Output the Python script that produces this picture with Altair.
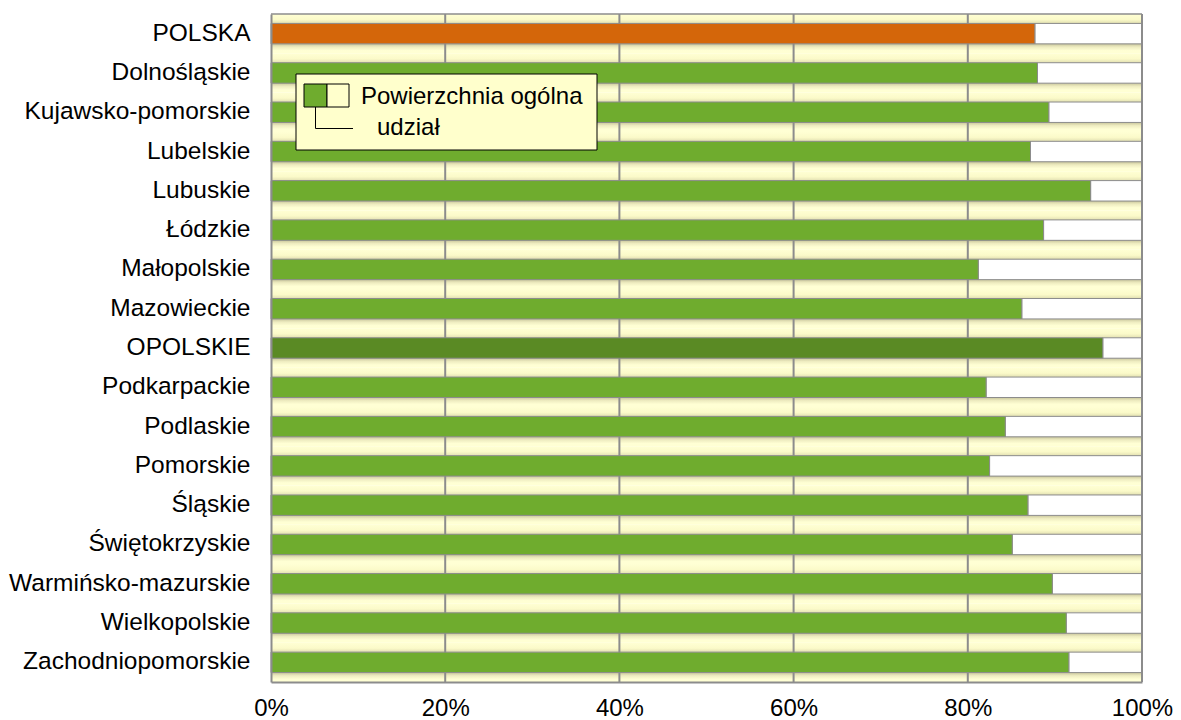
import altair as alt
import pandas as pd

regions = ["POLSKA", "Dolnośląskie", "Kujawsko-pomorskie", "Lubelskie", "Lubuskie",
           "Łódzkie", "Małopolskie", "Mazowieckie", "OPOLSKIE", "Podkarpackie",
           "Podlaskie", "Pomorskie", "Śląskie", "Świętokrzyskie",
           "Warmińsko-mazurskie", "Wielkopolskie", "Zachodniopomorskie"]
share = [87.7, 88.0, 89.3, 87.2, 94.1, 88.7, 81.2, 86.2, 95.5, 82.1,
         84.3, 82.5, 86.9, 85.1, 89.7, 91.3, 91.6]
kinds = ["kraj"] + ["woj"] * 7 + ["opolskie"] + ["woj"] * 8
total = [100] * 17
grid_ticks = [20, 40, 60, 80]
x_ticks = [0, 20, 40, 60, 80, 100]
legend_labels = ["Powierzchnia ogólna", "udział"]

W, H = 871, 668
FONT = "Liberation Sans"
FS = 24
GREY = "#8c8c8c"

df = pd.DataFrame({"region": regions, "share": share, "total": total, "kind": kinds})

xscale = alt.Scale(domain=[0, 100], nice=False)
bar_y = alt.Scale(domain=regions, paddingInner=0.48, paddingOuter=0.24)

xaxis = alt.Axis(values=x_ticks, labelExpr="datum.value + '%'", title=None,
                 grid=False, ticks=False, domainColor=GREY, domainWidth=2,
                 labelFontSize=FS, labelFont=FONT, labelColor="black",
                 labelPadding=14, zindex=1, labelFlush=False)

gradient = {
    "gradient": "linear", "x1": 0, "y1": 0, "x2": 0, "y2": 1,
    "stops": [
        {"offset": 0.0, "color": "#FFFFD4"},
        {"offset": 0.14, "color": "#FBFAC9"},
        {"offset": 0.24, "color": "#E2E0B2"},
        {"offset": 0.76, "color": "#C9C69C"},
        {"offset": 0.84, "color": "#EEECC0"},
        {"offset": 0.93, "color": "#FFFFD4"},
        {"offset": 1.0, "color": "#FFFFD4"},
    ],
}

bg = alt.Chart(df).mark_rect(color=gradient).encode(
    x=alt.value(0), x2=alt.value(W),
    y=alt.Y("region:N", scale=alt.Scale(domain=regions, paddingInner=0, paddingOuter=0), axis=None),
)

grid = alt.Chart(pd.DataFrame({"t": grid_ticks})).mark_rule(color=GREY, strokeWidth=2).encode(
    x=alt.X("t:Q", scale=xscale, axis=xaxis)
)

rest = alt.Chart(df).mark_bar(color="white", stroke=GREY, strokeWidth=1).encode(
    x=alt.X("share:Q", scale=xscale, axis=xaxis),
    x2="total:Q",
    y=alt.Y("region:N", scale=bar_y, axis=None),
)

bars = alt.Chart(df).mark_bar(stroke=GREY, strokeWidth=1).encode(
    x=alt.X("share:Q", scale=xscale, axis=xaxis),
    y=alt.Y("region:N", scale=bar_y,
            axis=alt.Axis(title=None, ticks=False, domainColor=GREY, domainWidth=2,
                          labelFontSize=24.5, labelFont=FONT, labelColor="black",
                          labelPadding=21, zindex=1, labelLimit=400)),
    color=alt.Color("kind:N", scale=alt.Scale(domain=["kraj", "woj", "opolskie"],
                                              range=["#d4660a", "#6fac2e", "#5a8a24"]),
                    legend=None),
)

one = pd.DataFrame({"k": [0]})
right_border = alt.Chart(one).mark_rule(color=GREY, strokeWidth=2).encode(
    x=alt.value(W), y=alt.value(0), y2=alt.value(H))
top_border = alt.Chart(one).mark_rule(color=GREY, strokeWidth=1.5).encode(
    x=alt.value(0), x2=alt.value(W), y=alt.value(0))

leg_box = alt.Chart(one).mark_rect(fill="#FFFFCC", stroke="black", strokeWidth=1).encode(
    x=alt.value(25), x2=alt.value(326), y=alt.value(60), y2=alt.value(136))
leg_sw1 = alt.Chart(one).mark_rect(fill="#6fac2e", stroke="black", strokeWidth=1).encode(
    x=alt.value(33), x2=alt.value(56), y=alt.value(70), y2=alt.value(93))
leg_sw2 = alt.Chart(one).mark_rect(fill="#FFFFCC", stroke="black", strokeWidth=1).encode(
    x=alt.value(56), x2=alt.value(78), y=alt.value(70), y2=alt.value(93))
leg_v = alt.Chart(one).mark_rule(color="black", strokeWidth=1).encode(
    x=alt.value(44.5), y=alt.value(93), y2=alt.value(114.5))
leg_h = alt.Chart(one).mark_rule(color="black", strokeWidth=1).encode(
    x=alt.value(44.5), x2=alt.value(82), y=alt.value(114.5))
leg_t1 = alt.Chart(pd.DataFrame({"t": [legend_labels[0]]})).mark_text(
    align="left", baseline="alphabetic", font=FONT, fontSize=FS, color="black").encode(
    x=alt.value(90), y=alt.value(90), text="t:N")
leg_t2 = alt.Chart(pd.DataFrame({"t": [legend_labels[1]]})).mark_text(
    align="left", baseline="alphabetic", font=FONT, fontSize=FS, color="black").encode(
    x=alt.value(106), y=alt.value(121), text="t:N")

chart = alt.layer(
    bg, grid, rest, bars, right_border, top_border,
    leg_box, leg_sw1, leg_sw2, leg_v, leg_h, leg_t1, leg_t2
).resolve_scale(y="independent").properties(
    width=W, height=H,
    autosize=alt.AutoSizeParams(type="none"),
    padding={"left": 263, "top": 6, "right": 31, "bottom": 40},
).configure_view(stroke=None)

chart.save("out.html", embed_options={"renderer": "svg", "actions": False})
